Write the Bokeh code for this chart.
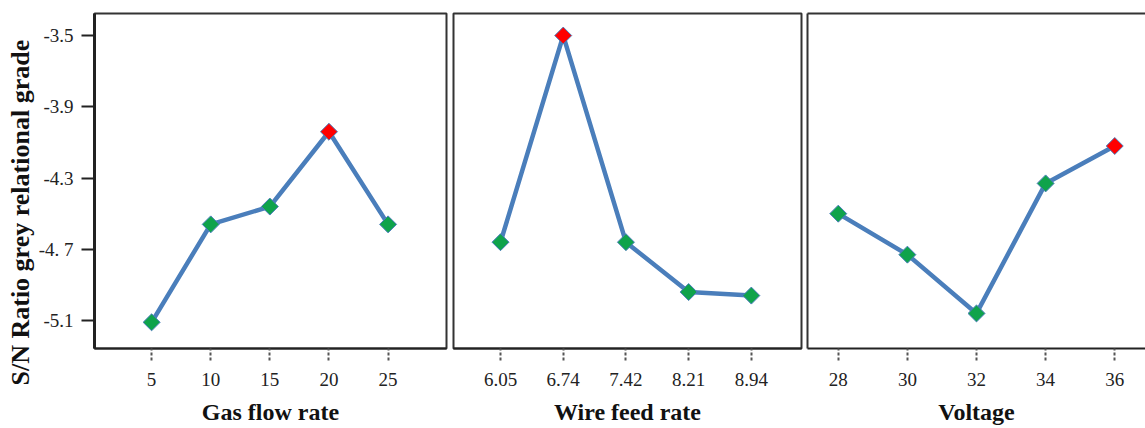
import math
from bokeh.plotting import figure
from bokeh.models import Range1d, FixedTicker, LinearAxis, Title, ColumnDataSource
from bokeh.layouts import row
from bokeh.embed import file_html
from bokeh.resources import INLINE

# ---- data ----
gas_flow = [5, 10, 15, 20, 25]
gas_sn = [-5.11, -4.56, -4.46, -4.04, -4.56]

wire_feed = ["6.05", "6.74", "7.42", "8.21", "8.94"]
wire_sn = [-4.66, -3.50, -4.66, -4.94, -4.96]

voltage = [28, 30, 32, 34, 36]
volt_sn = [-4.50, -4.73, -5.06, -4.33, -4.12]

y_ticks = [-3.5, -3.9, -4.3, -4.7, -5.1]
y_tick_labels = ["-3.5", "-3.9", "-4.3", "-4. 7", "-5.1"]

y_title = "S/N Ratio  grey relational grade"
x_titles = ["Gas flow rate", "Wire feed rate", "Voltage"]

# ---- style ----
SERIF = "Liberation Serif"
LINE = "#4a7ebb"
GREEN = "#0fa34b"
RED = "#ff0000"
FRAME_H = 335

yr = Range1d(-5.257, -3.376)


def style_x(p, ticks, labels, title):
    ax = p.xaxis[0]
    ax.ticker = FixedTicker(ticks=ticks)
    ax.major_label_overrides = {t: l for t, l in zip(ticks, labels)}
    ax.axis_label = title
    ax.axis_label_text_font = SERIF
    ax.axis_label_text_font_style = "bold"
    ax.axis_label_text_font_size = "24px"
    ax.axis_label_text_color = "#111111"
    ax.axis_label_standoff = 10
    ax.major_label_text_font = SERIF
    ax.major_label_text_font_size = "19px"
    ax.major_label_text_color = "#222222"
    ax.major_label_standoff = 12
    ax.major_tick_in = 0
    ax.major_tick_out = 12
    ax.major_tick_line_color = "#555555"
    ax.major_tick_line_width = 2
    ax.major_tick_line_dash = "3 2"
    ax.minor_tick_line_color = None
    ax.axis_line_color = "#222222"
    ax.axis_line_width = 2


def draw(p, xs, ys):
    imax = ys.index(max(ys))
    colors = [RED if i == imax else GREEN for i in range(len(ys))]
    src = ColumnDataSource(dict(x=xs, y=ys, c=colors))
    p.line("x", "y", source=src, line_color=LINE, line_width=4.5)
    p.scatter("x", "y", source=src, marker="square", size=12, angle=math.pi / 4,
              fill_color="c", line_color=LINE, line_width=1)


def base(fw, left, right, x_range, yaxis):
    p = figure(frame_width=fw, frame_height=FRAME_H, x_range=x_range, y_range=yr,
               output_backend="svg", toolbar_location=None,
               min_border_left=left, min_border_right=right,
               min_border_top=13, min_border_bottom=10,
               y_axis_location="left" if yaxis else None)
    p.grid.visible = False
    p.outline_line_color = "#333333"
    p.outline_line_width = 2
    p.background_fill_color = "white"
    p.border_fill_color = "white"
    return p


# Panel 1: gas flow rate
p1 = base(352, 94, 4, Range1d(0.17, 29.94), True)
draw(p1, gas_flow, gas_sn)
style_x(p1, gas_flow, [str(v) for v in gas_flow], x_titles[0])
ya = p1.yaxis[0]
ya.ticker = FixedTicker(ticks=y_ticks)
ya.major_label_overrides = {t: l for t, l in zip(y_ticks, y_tick_labels)}
ya.major_label_text_font = SERIF
ya.major_label_text_font_size = "19px"
ya.major_label_text_color = "#222222"
ya.major_label_standoff = 8
ya.major_tick_in = 0
ya.major_tick_out = 13
ya.major_tick_line_color = "#222222"
ya.major_tick_line_width = 2
ya.minor_tick_line_color = None
ya.axis_line_color = "#222222"
ya.axis_line_width = 3
p1.add_layout(Title(text=y_title, align="left", offset=-37, text_font=SERIF,
                    text_font_size="26px", text_font_style="bold",
                    text_color="#111111", standoff=2), "left")

# Panel 2: wire feed rate (equally spaced categories)
idx = list(range(len(wire_feed)))
p2 = base(348, 3, 3, Range1d(-0.75, 4.8), False)
draw(p2, idx, wire_sn)
style_x(p2, idx, wire_feed, x_titles[1])

# Panel 3: voltage (right edge open)
p3 = base(338, 3, 0, Range1d(27.11, 36.89), False)
p3.outline_line_color = None
draw(p3, voltage, volt_sn)
style_x(p3, voltage, [str(v) for v in voltage], x_titles[2])
for loc in ("left", "above"):
    a = LinearAxis(ticker=FixedTicker(ticks=[]), axis_line_color="#333333",
                   axis_line_width=2, major_tick_line_color=None,
                   minor_tick_line_color=None, major_label_text_font_size="0px")
    p3.add_layout(a, loc)

layout = row(p1, p2, p3, spacing=0)
open("out.html", "w").write(file_html(layout, INLINE))
